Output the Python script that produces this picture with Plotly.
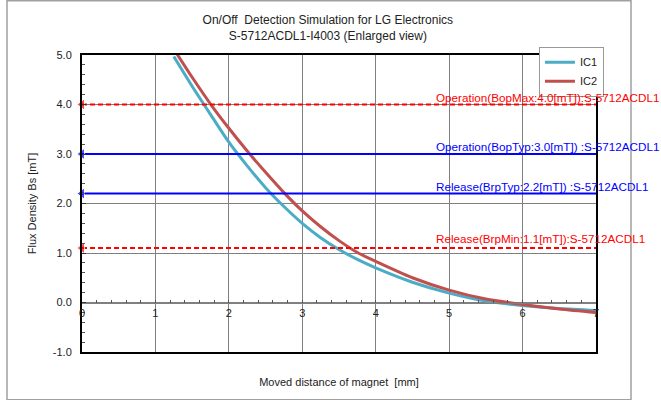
import plotly.graph_objects as go

# ---- data ----
ic1_x = [1.25, 1.5, 1.75, 2.0, 2.25, 2.5, 2.75, 3.0, 3.25, 3.5, 3.75, 4.0, 4.5, 5.0, 5.5, 6.0, 6.5, 7.0]
ic1_y = [4.97, 4.37, 3.80, 3.24, 2.76, 2.32, 1.94, 1.60, 1.31, 1.07, 0.87, 0.70, 0.41, 0.19, 0.03, -0.06, -0.12, -0.16]
ic2_x = [1.25, 1.5, 1.75, 2.0, 2.25, 2.5, 2.75, 3.0, 3.25, 3.5, 3.75, 4.0, 4.5, 5.0, 5.5, 6.0, 6.5, 7.0]
ic2_y = [5.12, 4.55, 4.01, 3.52, 3.06, 2.63, 2.22, 1.85, 1.53, 1.25, 1.01, 0.83, 0.50, 0.25, 0.07, -0.04, -0.13, -0.20]

ref_values = [4.0, 3.0, 2.2, 1.1]
ref_labels = ["Operation(BopMax:4.0[mT]):S-5712ACDL1",
              "Operation(BopTyp:3.0[mT]) :S-5712ACDL1",
              "Release(BrpTyp:2.2[mT]) :S-5712ACDL1",
              "Release(BrpMin:1.1[mT]):S-5712ACDL1"]
ref_colors = ["#FF0000", "#0000FF", "#0000FF", "#FF0000"]
ref_dash = ["5px,3px", "solid", "solid", "5px,3px"]
ref_yshift = [-1, -1, -1, 1]

x_range = [0, 7]
y_range = [-1, 5]
x_ticks = [0, 1, 2, 3, 4, 5, 6, 7]
x_ticklabels = ["0", "1", "2", "3", "4", "5", "6", "7"]
y_ticks = [-1, 0, 1, 2, 3, 4, 5]
y_ticklabels = ["-1.0", "0.0", "1.0", "2.0", "3.0", "4.0", "5.0"]
label_x = 4.80

FONT = "Liberation Sans, Arial, sans-serif"

fig = go.Figure()

# reference lines with left arrow heads
for v, lab, col, d, ys in zip(ref_values, ref_labels, ref_colors, ref_dash, ref_yshift):
    fig.add_trace(go.Scatter(
        x=[x_range[0], x_range[1]], y=[v, v], mode="lines+markers",
        line=dict(color=col, width=2, dash=d),
        marker=dict(symbol=["triangle-left", "circle"], size=[10, 0], color=col),
        showlegend=False, hoverinfo="skip", xaxis="x2", cliponaxis=False))
    fig.add_annotation(x=label_x, y=v, xref="x", yref="y", text=lab,
                       showarrow=False, xanchor="left", yanchor="bottom",
                       yshift=ys, font=dict(family=FONT, size=11.7, color=col))

fig.add_trace(go.Scatter(x=ic1_x, y=ic1_y, mode="lines", name="IC1",
                         line=dict(color="#4BACC6", width=3, shape="spline", smoothing=0.8)))
fig.add_trace(go.Scatter(x=ic2_x, y=ic2_y, mode="lines", name="IC2",
                         line=dict(color="#C0504D", width=3, shape="spline", smoothing=0.8)))

fig.update_layout(
    width=661, height=400,
    margin=dict(l=82, r=65, t=55, b=48),
    paper_bgcolor="white", plot_bgcolor="white",
    font=dict(family=FONT, size=11, color="#222"),
    title=dict(text="On/Off  Detection Simulation for LG Electronics<br>S-5712ACDL1-I4003 (Enlarged view)",
               x=0.496, xanchor="center", y=0.94, yanchor="top",
               font=dict(family=FONT, size=12, color="#222")),
    xaxis=dict(range=x_range, tickvals=x_ticks, showticklabels=False,
               showgrid=True, gridcolor="#808080", gridwidth=1,
               showline=True, linecolor="black", linewidth=2, mirror=True,
               zeroline=False, ticks="", automargin=False,
               title=dict(text="Moved distance of magnet  [mm]", standoff=25,
                          font=dict(family=FONT, size=11, color="#222"))),
    xaxis2=dict(range=x_range, overlaying="x", anchor="free", position=1/6,
                side="bottom", tickvals=x_ticks, ticktext=x_ticklabels,
                showgrid=False, showline=True, linecolor="#808080", linewidth=1,
                ticks="inside", ticklen=0, automargin=False,
                tickfont=dict(family=FONT, size=11, color="#222"),
                minor=dict(ticks="inside", dtick=0.2, ticklen=3, tickcolor="#555"),
                zeroline=False),
    yaxis=dict(range=y_range, tickvals=y_ticks, ticktext=y_ticklabels,
               showgrid=True, gridcolor="#808080", gridwidth=1,
               showline=True, linecolor="black", linewidth=2, mirror=True,
               zeroline=False, ticks="inside", ticklen=4, tickcolor="#333",
               minor=dict(ticks="inside", dtick=0.2, ticklen=3, tickcolor="#555", showgrid=False),
               ticklabelstandoff=6, automargin=False,
               tickfont=dict(family=FONT, size=11, color="#222"),
               title=dict(text="Flux Density Bs [mT]", standoff=14,
                          font=dict(family=FONT, size=11, color="#222"))),
    legend=dict(x=0.889, y=1.028, xanchor="left", yanchor="top",
                bgcolor="white", bordercolor="#999", borderwidth=1,
                font=dict(family=FONT, size=11, color="#222"),
                itemwidth=30, tracegroupgap=0),
    showlegend=True,
)

# outer frame of the picture
fig.add_shape(type="rect", xref="paper", yref="paper",
              x0=(7 - 82) / 514, x1=(631 - 82) / 514,
              y0=(351 - 398.5) / 296, y1=(351 - 1) / 296,
              line=dict(color="#A0A0A0", width=1.5), layer="below")

fig.write_html("out.html", config={"displayModeBar": False},
               post_script="document.body.style.margin='0';document.body.style.overflow='hidden';")
